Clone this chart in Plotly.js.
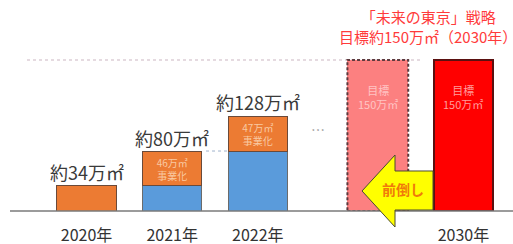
<!DOCTYPE html>
<html><head><meta charset="utf-8">
<script src="https://cdn.plot.ly/plotly-3.0.1.min.js"></script>
<style>body{margin:0;background:#fff}#c{width:513px;height:244px}</style>
</head><body><div id="c"></div>
<script>
// ---- data ----
const years = ['2020年', '2021年', '2022年'];
const existing = [0, 34, 81];          // 万㎡ already realised (blue)
const added = [34, 46, 47];            // 万㎡ newly added that year (orange)
const totalLabels = ['約34万㎡', '約80万㎡', '約128万㎡'];
const addedLabels = ['', '46万㎡<br>事業化', '47万㎡<br>事業化'];
const targetNames = ['目標（前倒し）', '2030年'];
const targetValues = [150, 150];
const targetLabels = ['目標<br>150万㎡', '目標<br>150万㎡'];
const titleText = '「未来の東京」戦略<br>目標約150万㎡（2030年）';
const arrowText = '前倒し';

// ---- layout helpers ----
const font = '"Noto Sans CJK JP", "Noto Sans", sans-serif';
const xActual = [0, 1, 2];
const xTarget = [3.4, 4.4];
const bw = 0.69;

const totals = existing.map((v, i) => v + added[i]);

const traces = [
  {type: 'bar', x: xActual, y: existing, name: '既存', yaxis: 'y', width: bw,
   marker: {color: '#5A9BDB', line: {color: '#6b6b6b', width: 1}}, hoverinfo: 'skip'},
  {type: 'bar', x: xActual, y: added, name: '新規', yaxis: 'y', width: bw,
   text: addedLabels, textposition: 'inside', insidetextanchor: 'middle', textangle: 0,
   textfont: {family: font, size: 10, color: '#F9C9A2'},
   marker: {color: '#EC7B33', line: {color: '#6a4a3a', width: 1}}, hoverinfo: 'skip'},
  {type: 'bar', x: [xTarget[0]], y: [targetValues[0]], yaxis: 'y2', width: 0.71,
   marker: {color: '#FC8080', line: {width: 0}}, hoverinfo: 'skip'},
  {type: 'bar', x: [xTarget[1]], y: [targetValues[1]], yaxis: 'y2', width: bw,
   marker: {color: '#FF0000', line: {color: '#5a1010', width: 1.5}}, hoverinfo: 'skip'}
];

const annotations = [];
xActual.forEach((x, i) => {
  annotations.push({x: x, y: totals[i], xref: 'x', yref: 'y', text: totalLabels[i],
    showarrow: false, yanchor: 'bottom', yshift: -1,
    font: {family: font, size: 18, color: '#3a3a3a'}});
});
xTarget.forEach((x, i) => {
  annotations.push({x: x, y: targetValues[i], xref: 'x', yref: 'y2', text: targetLabels[i],
    showarrow: false, yanchor: 'top', yshift: -20,
    font: {family: font, size: 11, color: i === 0 ? '#FFC4C4' : '#FF9C9C'}});
});
annotations.push({x: 0.834, y: (211 - 4) / 211, xref: 'paper', yref: 'paper', xanchor: 'center', yanchor: 'top',
  text: titleText, showarrow: false, font: {family: font, size: 15, color: '#FF3B3B'}});
annotations.push({x: 2.7, y: 0.33, xref: 'x', yref: 'paper', text: '…', showarrow: false,
  font: {family: font, size: 14, color: '#999'}});

const P = (px, py) => (px / 513).toFixed(4) + ',' + ((211 - py) / 211).toFixed(4);
const arrowPath = 'M' + P(362, 191) + ' L' + P(395, 155) + ' L' + P(395, 171) + ' L' + P(433, 171) +
  ' L' + P(433, 210) + ' L' + P(395, 210) + ' L' + P(395, 227) + ' Z';

const shapes = [
  {type: 'line', xref: 'paper', yref: 'y2', x0: 27 / 513, x1: 423 / 513, y0: targetValues[0], y1: targetValues[0],
   line: {color: '#CBB6C2', width: 1.2, dash: 'dot'}, layer: 'below'},
  {type: 'line', xref: 'x', yref: 'y', x0: xActual[1] + bw / 2 + 0.05, x1: xActual[2] - bw / 2, y0: existing[2], y1: existing[2],
   line: {color: '#9FB3CC', width: 1, dash: 'dot'}},
  {type: 'rect', xref: 'x', yref: 'y2', x0: xTarget[0] - 0.355, x1: xTarget[0] + 0.355, y0: 0, y1: targetValues[0],
   line: {color: '#5E3A3E', width: 2, dash: '3px,2px'}, fillcolor: 'rgba(0,0,0,0)', layer: 'above'},
  {type: 'line', xref: 'paper', yref: 'paper', x0: 10 / 513, x1: 1, y0: 0, y1: 0,
   line: {color: '#7a7a7a', width: 1.5}, layer: 'above'},
  {type: 'path', xref: 'paper', yref: 'paper', path: arrowPath, fillcolor: '#FFFF00',
   line: {color: '#4a4a30', width: 1}, layer: 'above'},
  {type: 'rect', xref: 'paper', yref: 'paper', x0: 378 / 513, x1: 428 / 513, y0: (211 - 200) / 211, y1: (211 - 181) / 211,
   line: {width: 0}, fillcolor: 'rgba(0,0,0,0)', layer: 'above',
   label: {text: '<b>' + arrowText + '</b>', textposition: 'middle center',
     font: {family: font, size: 14, color: '#F07A0A'}}}
];

const layout = {
  width: 513, height: 244,
  margin: {l: 0, r: 0, t: 0, b: 33},
  paper_bgcolor: '#fff', plot_bgcolor: '#fff',
  barmode: 'stack', showlegend: false,
  xaxis: {range: [-1.01, 4.978], tickvals: [0, 1, 2, xTarget[1]],
    ticktext: [years[0], years[1], years[2], targetNames[1]],
    showgrid: false, zeroline: false, showline: false, ticks: '',
    ticklabelstandoff: 13,
    tickfont: {family: font, size: 16, color: '#333'}, fixedrange: true},
  yaxis: {range: [0, 285], visible: false, fixedrange: true},
  yaxis2: {range: [0, 209.6], overlaying: 'y', visible: false, fixedrange: true},
  annotations: annotations,
  shapes: shapes
};

Plotly.newPlot('c', traces, layout, {displayModeBar: false, staticPlot: true});
</script></body></html>
